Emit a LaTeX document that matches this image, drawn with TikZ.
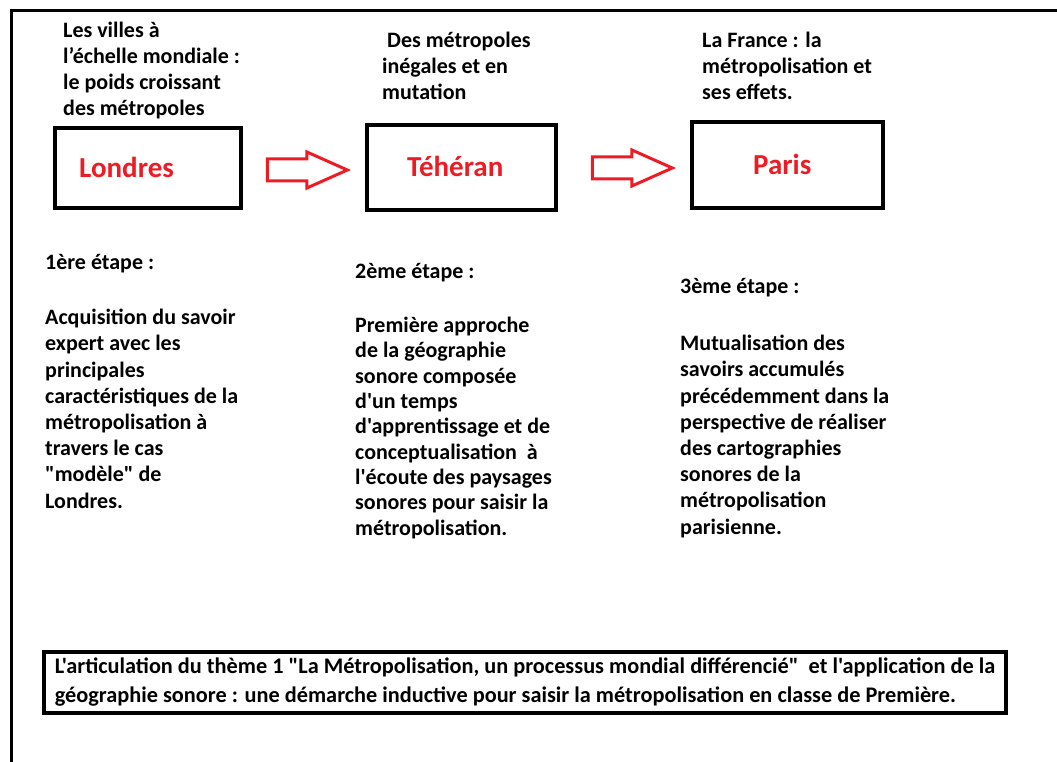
\documentclass[tikz,border=0pt]{standalone}
\usepackage{fontspec}
\setmainfont{Carlito}[Ligatures=TeXOff]
\usepackage{xcolor}
\usetikzlibrary{shapes, arrows}
\definecolor{paintred}{RGB}{237,28,36}

\begin{document}
\begin{tikzpicture}[x=1pt, y=-1pt]

\tikzstyle{citybox} = [rectangle, draw=black, line width=4, inner sep=0]
\tikzstyle{cityname} = [anchor=base west, inner sep=0, text=paintred, font={\fontsize{29}{34}\selectfont\bfseries}]
\tikzstyle{heading} = [anchor=base west, inner sep=0, align=left, font={\fontsize{22}{26}\selectfont\bfseries}]
\tikzstyle{stage} = [anchor=base west, inner sep=0, align=left, font={\fontsize{22}{26.2}\selectfont\bfseries}]
\tikzstyle{bigarrow} = [single arrow, draw=paintred, line width=3, inner xsep=0, inner ysep=9.5, minimum height=80, single arrow head extend=7, single arrow tip angle=48]
\tikzstyle{theme} = [rectangle, draw=black, line width=4, minimum width=962, minimum height=61, align=left, font={\fontsize{22.3}{29}\selectfont\bfseries}]

\useasboundingbox (0,0) rectangle (1057,762);
\draw[line width=3] (11,762) -- (11,11) -- (1057,11);

\node (head1) [heading] at (63,116) {Les villes à\\l’échelle mondiale :\\le poids croissant\\des métropoles};
\node (head2) [heading] at (382,100) {\ Des métropoles\\inégales et en\\mutation};
\node (head3) [heading] at (702,100) {La France : la\\métropolisation et\\ses effets.};

\node (boxL) [citybox, minimum width=186, minimum height=80] at (148,168) {};
\node (boxT) [citybox, minimum width=189, minimum height=85] at (461.5,167.5) {};
\node (boxP) [citybox, minimum width=191, minimum height=86] at (787.5,165) {};
\node (londres) [cityname] at (79,178) {Londres};
\node (teheran) [cityname] at (407,177) {Téhéran};
\node (paris) [cityname] at (753,175) {Paris};

\node (arrowLT) [bigarrow] at (295,170) {};
\node (arrowTP) [bigarrow] at (620,168) {};

\node (stage1) [stage] at (45,508) {1ère étape :\\[29pt]Acquisition du savoir\\expert avec les\\principales\\caractéristiques de la\\métropolisation à\\travers le cas\\"modèle" de\\Londres.};
\node (stage2) [stage, font={\fontsize{22}{25.3}\selectfont\bfseries}] at (355,535) {2ème étape :\\[28.5pt]Première approche\\de la géographie\\sonore composée\\d'un temps\\d'apprentissage et de\\conceptualisation~ à\\l'écoute des paysages\\sonores pour saisir la\\métropolisation.};
\node (stage3) [stage] at (680,534) {3ème étape :\\[31pt]Mutualisation des\\savoirs accumulés\\précédemment dans la\\perspective de réaliser\\des cartographies\\sonores de la\\métropolisation\\parisienne.};

\node (summary) [theme] at (525,682.5) {L'articulation du thème 1 "La Métropolisation, un processus mondial différencié"~ et l'application de la\\géographie sonore : une démarche inductive pour saisir la métropolisation en classe de Première.};
\end{tikzpicture}
\end{document}
